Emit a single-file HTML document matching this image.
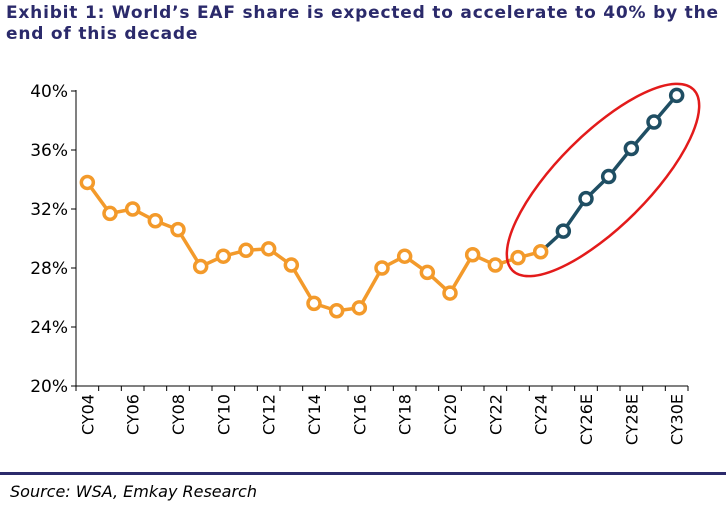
<!DOCTYPE html>
<html><head><meta charset="utf-8"><style>
body{margin:0;width:726px;height:508px;background:#fff;font-family:"Liberation Sans",Verdana,sans-serif;overflow:hidden;position:relative}
#title{position:absolute;left:6px;top:3px;width:720px;font-weight:bold;font-size:17px;line-height:21px;color:#2b2a6b;font-family:"DejaVu Sans","Liberation Sans",sans-serif;letter-spacing:0.8px;white-space:nowrap}
#rule{position:absolute;left:0;top:472px;width:726px;height:3px;background:#2b2a6b}
#src{position:absolute;left:10px;top:482px;font-size:16px;font-style:italic;color:#000;font-family:"DejaVu Sans","Liberation Sans",sans-serif}
svg{position:absolute;left:0;top:0}
</style></head><body>
<div id="title">Exhibit 1: World’s EAF share is expected to accelerate to 40% by the<br>end of this decade</div>
<svg id="c" width="726" height="470"></svg>
<div id="rule"></div>
<div id="src">Source: WSA, Emkay Research</div>
<script>
const categories=["CY04","CY05","CY06","CY07","CY08","CY09","CY10","CY11","CY12","CY13","CY14","CY15","CY16","CY17","CY18","CY19","CY20","CY21","CY22","CY23","CY24","CY25E","CY26E","CY27E","CY28E","CY29E","CY30E"];
const values=[33.8,31.7,32.0,31.2,30.6,28.1,28.8,29.2,29.3,28.2,25.6,25.1,25.3,28.0,28.8,27.7,26.3,28.9,28.2,28.7,29.1,30.5,32.7,34.2,36.1,37.9,39.7];
const actualCount=21;
const yTicks=[20,24,28,32,36,40];
const shownLabels=["CY04","CY06","CY08","CY10","CY12","CY14","CY16","CY18","CY20","CY22","CY24","CY26E","CY28E","CY30E"];
const NS="http://www.w3.org/2000/svg",svg=document.getElementById('c');
const X0=76,X1=688,Y0=386,Y1=91;
const bw=(X1-X0)/categories.length;
const x=i=>X0+bw*(i+0.5);
const y=v=>Y0-(v-20)/20*(Y0-Y1);
function mk(t,a){const e=document.createElementNS(NS,t);for(const k in a)e.setAttribute(k,a[k]);svg.appendChild(e);return e;}
let e=mk('line',{x1:X0,y1:Y1-1,x2:X0,y2:Y0,stroke:'#000','stroke-width':1});


e=mk('line',{x1:X0,y1:Y0,x2:X1,y2:Y0,stroke:'#000','stroke-width':1});


yTicks.forEach(t=>{
 mk('line',{x1:X0-5,y1:y(t),x2:X0,y2:y(t),stroke:'#000'});
 const l=mk('text',{x:X0-8,y:y(t)+6,'text-anchor':'end','font-size':17,fill:'#000','font-family':'DejaVu Sans, Liberation Sans, sans-serif'});
 l.textContent=t+'%';
 
 
});
for(let i=0;i<=categories.length;i++)mk('line',{x1:X0+bw*i,y1:Y0,x2:X0+bw*i,y2:Y0+5,stroke:'#000'});
categories.forEach((c,i)=>{
 if(!shownLabels.includes(c))return;
 const l=mk('text',{x:0,y:0,transform:`translate(${x(i)+6},${Y0+8}) rotate(-90)`,'text-anchor':'end','font-size':16,fill:'#000','font-family':'DejaVu Sans, Liberation Sans, sans-serif'});
 l.textContent=c;
 
 
});
const pa=values.slice(0,actualCount).map((v,i)=>x(i)+','+y(v)).join(' ');
const pf=values.slice(actualCount-1).map((v,j)=>x(j+actualCount-1)+','+y(v)).join(' ');
e=mk('polyline',{points:pa,fill:'none',stroke:'#f39a2b','stroke-width':3.5});


e=mk('polyline',{points:pf,fill:'none',stroke:'#1f4e63','stroke-width':3.5});


values.forEach((v,i)=>{
 const c=mk('circle',{cx:x(i),cy:y(v),r:6,fill:'#fff',stroke:i<actualCount?'#f39a2b':'#1f4e63','stroke-width':3.5});
 
 
});
e=mk('ellipse',{cx:603,cy:180,rx:128,ry:46,fill:'none',stroke:'#e31b1b','stroke-width':2.5,transform:'rotate(-45 603 180)'});


</script>
</body></html>
